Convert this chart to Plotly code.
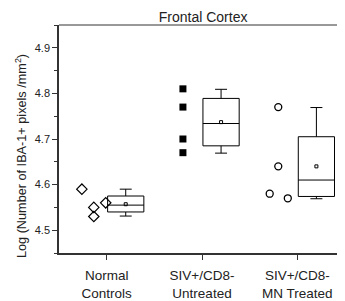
import plotly.graph_objects as go

categories = ["Normal<br>Controls", "SIV+/CD8-<br>Untreated", "SIV+/CD8-<br>MN Treated"]

# Individual data points (value, x-offset relative to category)
normal_vals = [4.59, 4.55, 4.53, 4.56]
normal_off = [-0.26, -0.135, -0.135, -0.01]
untreated_vals = [4.81, 4.77, 4.70, 4.67]
untreated_off = [-0.2, -0.2, -0.2, -0.2]
treated_vals = [4.77, 4.64, 4.58, 4.57]
treated_off = [-0.2, -0.2, -0.29, -0.10]

# Box statistics per group
box_q1 = [4.54, 4.685, 4.574]
box_median = [4.555, 4.734, 4.61]
box_q3 = [4.575, 4.789, 4.705]
box_low = [4.531, 4.669, 4.569]
box_high = [4.59, 4.809, 4.769]
box_mean = [4.557, 4.737, 4.64]
box_offset = 0.2

fig = go.Figure()

groups = [
    (normal_vals, normal_off, dict(symbol="diamond-open", size=8, color="black", line=dict(width=1.2))),
    (untreated_vals, untreated_off, dict(symbol="square", size=7, color="black")),
    (treated_vals, treated_off, dict(symbol="circle-open", size=7, color="black", line=dict(width=1.3))),
]
for i, (vals, offs, mk) in enumerate(groups):
    fig.add_trace(go.Scatter(
        x=[i + o for o in offs], y=vals, mode="markers", marker=mk,
        showlegend=False, hoverinfo="skip"))

for i in range(3):
    fig.add_trace(go.Box(
        x=[i + box_offset], q1=[box_q1[i]], median=[box_median[i]], q3=[box_q3[i]],
        lowerfence=[box_low[i]], upperfence=[box_high[i]],
        width=0.38, whiskerwidth=0.33, boxpoints=False,
        line=dict(color="black", width=1), fillcolor="white",
        showlegend=False, hoverinfo="skip"))

fig.add_trace(go.Scatter(
    x=[i + box_offset for i in range(3)], y=box_mean, mode="markers",
    marker=dict(symbol="square-open", size=3, color="black", line=dict(width=1)),
    showlegend=False, hoverinfo="skip"))

fig.update_layout(
    width=337, height=293,
    margin=dict(l=51, r=0, t=17, b=44),
    plot_bgcolor="white", paper_bgcolor="white",
    font=dict(family="Liberation Sans, Arial, sans-serif", color="#222"),
    title=dict(text="Frontal Cortex", x=0.579, xanchor="center", y=0.968, yanchor="middle",
               font=dict(size=14, color="#222")),
    showlegend=False,
    xaxis=dict(
        range=[-0.5, 2.5], tickvals=[0, 1, 2], ticktext=categories,
        showgrid=False, zeroline=False, showline=True, linecolor="#333", linewidth=1.5,
        ticks="outside", ticklen=5, tickcolor="#333", tickwidth=1,
        tickfont=dict(size=13.5, color="#222"), ticklabelstandoff=4,
    ),
    yaxis=dict(
        range=[4.45, 4.95], tick0=4.5, dtick=0.1, tickformat=".1f",
        showgrid=False, zeroline=False, showline=True, linecolor="#333", linewidth=1.5,
        ticks="outside", ticklen=5, tickcolor="#333", tickwidth=1,
        tickfont=dict(size=11, color="#222"),
        minor=dict(dtick=0.05, tick0=4.45, ticks="outside", ticklen=3, tickcolor="#333", tickwidth=1),
    ),
    shapes=[dict(type="line", xref="paper", yref="paper", x0=0, x1=1, y0=1, y1=1,
                 line=dict(color="#777", width=1.5))],
    annotations=[dict(
        text="Log (Number of IBA-1+ pixels /mm<sup>2</sup>)", textangle=-90,
        xref="paper", yref="paper", x=-0.133, y=0.425, xanchor="center", yanchor="middle",
        showarrow=False, font=dict(size=12.7, color="#222"))],
)

fig.write_html("out.html")
